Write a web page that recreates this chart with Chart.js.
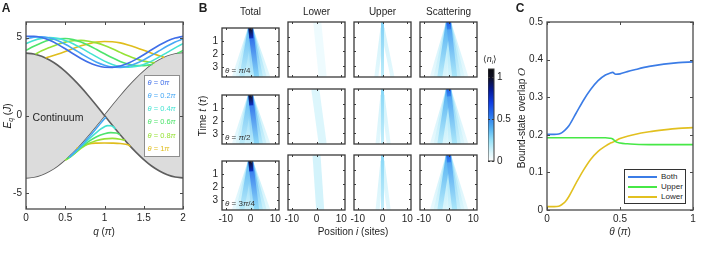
<!DOCTYPE html>
<html>
<head>
<meta charset="utf-8">
<script src="https://cdn.jsdelivr.net/npm/chart.js@4.4.1/dist/chart.umd.min.js"></script>
<style>
  body { margin: 0; width: 714px; height: 259px; background: #fff; position: relative; overflow: hidden;
         font-family: "Liberation Sans", Arial, sans-serif; color: #1f1f1f; }
  canvas { position: absolute; }
  .t { position: absolute; white-space: nowrap; font-size: 10px; line-height: 1; transform: translate(-50%, -50%); }
  .l { transform: translate(0, -50%); }
  .v { transform: translate(-50%, -50%) rotate(-90deg); }
  .big { font-weight: bold; font-size: 12px; }
  .box { position: absolute; background: #fff; }
  .sw { position: absolute; height: 2px; }
  sub { vertical-align: -2px; line-height: 0; }
</style>
</head>
<body>
<script>
// ---------- panel A : spectrum vs q ----------
const qGrid = [0, 0.1, 0.2, 0.3, 0.4, 0.5, 0.6, 0.7, 0.8, 0.9, 1, 1.1, 1.2, 1.3, 1.4, 1.5, 1.6, 1.7, 1.8, 1.9, 2];
const edgeFalling = [4, 3.95, 3.80, 3.56, 3.24, 2.83, 2.35, 1.82, 1.24, 0.63, 0, -0.63, -1.24, -1.82, -2.35, -2.83, -3.24, -3.56, -3.80, -3.95, -4];
const edgeRising = [-4, -3.95, -3.80, -3.56, -3.24, -2.83, -2.35, -1.82, -1.24, -0.63, 0, 0.63, 1.24, 1.82, 2.35, 2.83, 3.24, 3.56, 3.80, 3.95, 4];
const thetaLabels = ['0', '0.2', '0.4', '0.6', '0.8', '1'];
const thetaColors = ['#3f6ee8', '#47a8f5', '#45e3d2', '#4ee46c', '#96e236', '#dfbd1c'];

// upper bound states, [q, E] pairs
const upperBand = [
  [[0, 5.08], [0.1, 5.09], [0.2, 5.0], [0.3, 4.83], [0.4, 4.58], [0.5, 4.28], [0.6, 3.96], [0.7, 3.66], [0.8, 3.40], [0.9, 3.21], [1, 3.10],
   [1.1, 3.09], [1.2, 3.18], [1.3, 3.35], [1.4, 3.60], [1.5, 3.90], [1.6, 4.22], [1.7, 4.52], [1.8, 4.78], [1.9, 4.97], [2, 5.08]],
  [[0, 4.91], [0.1, 5.03], [0.2, 5.05], [0.3, 4.97], [0.4, 4.81], [0.5, 4.57], [0.6, 4.28], [0.7, 3.98], [0.8, 3.68], [0.9, 3.42], [1, 3.23],
   [1.1, 3.11], [1.2, 3.09], [1.3, 3.17], [1.4, 3.33], [1.5, 3.57], [1.6, 3.86], [1.7, 4.16], [1.8, 4.46], [1.9, 4.72], [2, 4.91]],
  [[0, 4.61], [0.1, 4.82], [0.2, 4.95], [0.3, 5.0], [0.4, 4.95], [0.5, 4.82], [0.6, 4.61], [0.7, 4.34], [0.8, 4.05], [0.9, 3.76], [1, 3.49],
   [1.1, 3.28], [1.2, 3.15], [1.3, 3.10], [1.4, 3.15], [1.5, 3.28], [1.6, 3.49], [1.7, 3.76], [1.8, 4.05], [1.9, 4.34], [2, 4.61]],
  [[0, 4.18], [0.1, 4.44], [0.2, 4.67], [0.3, 4.84], [0.4, 4.93], [0.5, 4.94], [0.6, 4.87], [0.7, 4.71], [0.8, 4.49], [0.9, 4.23], [1, 3.96],
   [1.1, 3.70], [1.2, 3.47], [1.3, 3.30], [1.4, 3.21], [1.5, 3.20], [1.6, 3.27], [1.61, 3.28], [1.75, null], [1.93, 3.99], [2, 4.18]],
  [[0.12, 3.94], [0.2, 4.15], [0.3, 4.36], [0.4, 4.56], [0.5, 4.71], [0.6, 4.80], [0.7, 4.82], [0.8, 4.77], [0.9, 4.66], [1, 4.49],
   [1.1, 4.28], [1.2, 4.05], [1.3, 3.83], [1.4, 3.64], [1.5, 3.49], [1.6, 3.40], [1.64, 3.39]],
  [[0.25, 3.70], [0.3, 3.77], [0.4, 3.93], [0.5, 4.11], [0.6, 4.30], [0.7, 4.47], [0.8, 4.61], [0.9, 4.71], [1, 4.75],
   [1.1, 4.73], [1.2, 4.66], [1.3, 4.53], [1.4, 4.37], [1.5, 4.19], [1.6, 4.0], [1.7, 3.83], [1.76, 3.73]]
];
// lower bound states (none for theta = 0)
const lowerBand = [
  [],
  [[0.55, -2.68], [0.6, -2.45], [0.65, -2.2], [0.7, -1.95], [0.75, -1.68], [0.8, -1.4], [0.85, -1.1], [0.9, -0.8], [0.95, -0.5], [1, -0.2], [1.02, -0.12]],
  [[0.55, -2.7], [0.6, -2.47], [0.7, -2.0], [0.8, -1.52], [0.9, -1.08], [0.95, -0.88], [1, -0.72], [1.04, -0.65], [1.08, -0.66], [1.11, -0.72], [1.14, -0.87]],
  [[0.52, -2.8], [0.6, -2.5], [0.7, -2.05], [0.8, -1.66], [0.9, -1.36], [1, -1.17], [1.08, -1.1], [1.15, -1.12], [1.2, -1.24]],
  [[0.5, -2.88], [0.6, -2.52], [0.7, -2.1], [0.8, -1.8], [0.9, -1.6], [1, -1.5], [1.1, -1.47], [1.2, -1.52], [1.26, -1.59]],
  [[0.64, -2.14], [0.7, -1.98], [0.8, -1.82], [0.9, -1.77], [1, -1.76], [1.1, -1.77], [1.2, -1.8], [1.3, -1.88], [1.33, -1.98]]
];
const aTicksX = [0, 0.5, 1, 1.5, 2];
const aTicksY = [-5, 0, 5];

// ---------- panel B : density <n_i>(t) ----------
const bColumns = ['Total', 'Lower', 'Upper', 'Scattering'];
const bThetas = ['π/4', 'π/2', '3π/4'];
const bTicksX = [-10, 0, 10];
const bTicksT = [1, 2, 3];
const tEnd = 3.75;
// light-cone streaks: end position at t = tEnd, and level at t = 0 per row
const rayEnds = [-6.5, -5, -3.5, -2, -0.5, 1, 2.5, 4, 5.5, 7];
const totalRays = [
  [0.14, 0.22, 0.36, 0.28, 0.3, 0.38, 0.62, 0.4, 0.28, 0.16],
  [0.14, 0.22, 0.36, 0.28, 0.3, 0.38, 0.6, 0.4, 0.28, 0.16],
  [0.14, 0.22, 0.38, 0.28, 0.3, 0.38, 0.58, 0.4, 0.28, 0.16]
];
const scatterRays = [
  [0.14, 0.22, 0.4, 0.22, 0.2, 0.26, 0.45, 0.3, 0.22, 0.14],
  [0.14, 0.22, 0.4, 0.22, 0.2, 0.26, 0.45, 0.3, 0.22, 0.14],
  [0.14, 0.22, 0.4, 0.22, 0.2, 0.26, 0.45, 0.3, 0.22, 0.14]
];
const totalCore = [1.0, 1.0, 1.0];
const scatterCore = [0.62, 0.6, 0.6];
const upperStreak = [0.3, 0.28, 0.28];
const upperSpread = [[-2.5, 4], [-2, 2.5], [-2, 2.5]];
const lowerDrift = [[0.3, 2.5], [-0.5, 2.5], [0, 1.5]];
const lowerLevel = [0.05, 0.1, 0.12];
const cbTicks = [0, 0.5, 1];
const cbMax = 1.1;

// ---------- panel C : bound-state overlap ----------
const thetaC = [0, 0.05, 0.08, 0.1, 0.125, 0.15, 0.2, 0.25, 0.3, 0.35, 0.4, 0.43, 0.45, 0.47, 0.5, 0.55, 0.6, 0.7, 0.8, 0.9, 1];
const overlapBoth = [0.201, 0.201, 0.202, 0.205, 0.213, 0.224, 0.258, 0.292, 0.321, 0.344, 0.359, 0.364, 0.366, 0.361, 0.362, 0.368, 0.373, 0.382, 0.388, 0.392, 0.394];
const overlapUpper = [0.192, 0.192, 0.192, 0.192, 0.192, 0.192, 0.192, 0.192, 0.192, 0.192, 0.192, 0.191, 0.189, 0.182, 0.178, 0.176, 0.175, 0.174, 0.174, 0.174, 0.174];
const overlapLower = [0.009, 0.009, 0.010, 0.014, 0.022, 0.036, 0.072, 0.106, 0.135, 0.156, 0.170, 0.177, 0.180, 0.184, 0.190, 0.196, 0.201, 0.208, 0.213, 0.217, 0.219];
const cNames = ['Both', 'Upper', 'Lower'];
const cColors = ['#3b7ce6', '#46e846', '#e2c020'];
const cTicksX = [0, 0.5, 1];
const cTicksY = [0, 0.1, 0.2, 0.3, 0.4, 0.5];

// ---------- helpers ----------
const FONT = '"Liberation Sans", Arial, sans-serif';
Chart.defaults.font.family = FONT;
Chart.defaults.font.size = 10;
Chart.defaults.color = '#262626';

const cmapStops = [[0, [255, 255, 255]], [0.1, [220, 246, 252]], [0.25, [150, 225, 248]], [0.4, [80, 175, 242]],
  [0.55, [40, 115, 238]], [0.7, [15, 60, 225]], [0.85, [5, 25, 150]], [1.0, [15, 15, 35]], [1.1, [10, 10, 15]]];
function cmap(v) {
  v = Math.max(0, Math.min(1.1, v));
  for (let i = 1; i < cmapStops.length; i++) {
    const [v1, c1] = cmapStops[i], [v0, c0] = cmapStops[i - 1];
    if (v <= v1) {
      const f = (v - v0) / (v1 - v0);
      return 'rgb(' + c0.map((c, k) => Math.round(c + (c1[k] - c) * f)).join(',') + ')';
    }
  }
  return 'rgb(10,10,15)';
}

// frame with inward ticks on all sides (matlab look)
const framePlugin = {
  id: 'frame',
  afterDatasetsDraw(chart, args, o) {
    const { ctx, chartArea: a, scales } = chart;
    const L = o.len || 3;
    ctx.save();
    ctx.strokeStyle = o.color || '#4a4a4a';
    ctx.lineWidth = 1;
    ctx.beginPath();
    if (o.xTicks !== false) {
      scales.x.ticks.forEach(t => {
        const p = Math.round(scales.x.getPixelForValue(t.value)) + 0.5;
        ctx.moveTo(p, a.bottom); ctx.lineTo(p, a.bottom - L);
        ctx.moveTo(p, a.top); ctx.lineTo(p, a.top + L);
      });
    }
    scales.y.ticks.forEach(t => {
      const p = Math.round(scales.y.getPixelForValue(t.value)) + 0.5;
      ctx.moveTo(a.left, p); ctx.lineTo(a.left + L, p);
      ctx.moveTo(a.right, p); ctx.lineTo(a.right - L, p);
    });
    ctx.stroke();
    ctx.lineWidth = o.width || 1.3;
    ctx.strokeRect(a.left, a.top, a.right - a.left, a.bottom - a.top);
    ctx.restore();
  }
};
Chart.register(framePlugin);

function canvasAt(x, y, w, h) {
  const c = document.createElement('canvas');
  c.width = w; c.height = h;
  c.style.left = x + 'px'; c.style.top = y + 'px';
  c.style.width = w + 'px'; c.style.height = h + 'px';
  document.body.appendChild(c);
  return c;
}

function axis(min, max, ticks, size, opts) {
  opts = opts || {};
  return {
    type: 'linear', min: min, max: max, reverse: !!opts.reverse, position: opts.pos,
    grid: { display: false, drawTicks: false }, border: { display: false },
    ticks: { display: opts.labels !== false, padding: opts.pad || 4, autoSkip: false, maxRotation: 0,
             font: { size: opts.font || 10 }, callback: v => String(v) },
    afterBuildTicks: s => { s.ticks = ticks.map(v => ({ value: v })); },
    afterFit: s => { if (s.isHorizontal()) s.height = size; else s.width = size; }
  };
}

function label(html, x, y, cls, style) {
  const d = document.createElement('div');
  d.className = 't ' + (cls || '');
  d.innerHTML = html;
  d.style.left = x + 'px'; d.style.top = y + 'px';
  if (style) Object.assign(d.style, style);
  document.body.appendChild(d);
  return d;
}

const baseOpts = () => ({
  animation: false, responsive: false, events: [],
  plugins: { legend: { display: false }, tooltip: { enabled: false }, frame: {} }
});

// ---------- panel A ----------
function curve(points, color) {
  return { data: points.map(p => ({ x: p[0], y: p[1] })), borderColor: color, borderWidth: 1.6, pointRadius: 0,
           fill: false, cubicInterpolationMode: 'monotone', spanGaps: false, order: 1 };
}
const aSets = [];
upperBand.forEach((b, i) => aSets.push(curve(b, thetaColors[i])));
lowerBand.forEach((b, i) => { if (b.length) aSets.push(curve(b, thetaColors[i])); });
aSets.push({ data: qGrid.map((q, i) => ({ x: q, y: edgeFalling[i] })), borderColor: '#5e5e5e', borderWidth: 1.6,
             pointRadius: 0, cubicInterpolationMode: 'monotone', order: 5,
             fill: { target: '+1', above: '#dcdcdc', below: '#dcdcdc' } });
aSets.push({ data: qGrid.map((q, i) => ({ x: q, y: edgeRising[i] })), borderColor: '#5e5e5e', borderWidth: 1.6,
             pointRadius: 0, cubicInterpolationMode: 'monotone', order: 5, fill: false });

const aOpts = baseOpts();
aOpts.layout = { padding: { left: 0, top: 22, right: 7, bottom: 0 } };
aOpts.scales = { x: axis(0, 2, aTicksX, 31, { pad: 3 }), y: axis(-6, 6, aTicksY, 26) };
new Chart(canvasAt(0, 0, 190, 240), { type: 'line', data: { datasets: aSets }, options: aOpts });

// ---------- panel B ----------
function ray(x0, t0, x1, t1, lvTop, lvBot, w) {
  return {
    level: lvTop, data: [{ x: x0, y: t0 }, { x: x1, y: t1 }], borderWidth: w, pointRadius: 0, clip: 0,
    borderCapStyle: 'butt', fill: false,
    borderColor: c => {
      const ch = c.chart;
      if (!ch.chartArea) return cmap(lvTop);
      const ys = ch.scales.y;
      const g = ch.ctx.createLinearGradient(0, ys.getPixelForValue(t0), 0, ys.getPixelForValue(t1));
      g.addColorStop(0, cmap(lvTop));
      g.addColorStop(1, cmap(lvBot));
      return g;
    }
  };
}
function panelRays(r, c) {
  const sets = [];
  if (c === 0 || c === 3) {
    const lv = (c === 0 ? totalRays : scatterRays)[r];
    rayEnds.forEach((xe, k) => sets.push(ray(0, 0, xe, tEnd, lv[k], lv[k] * 0.45, 5)));
    if (c === 0) sets.push(ray(0, 0, 0.3, 0.8, totalCore[r], 0.75, 4));
    else sets.push(ray(0, 0, 0.2, 0.5, scatterCore[r], 0.5, 4));
  } else if (c === 2) {
    upperSpread[r].forEach(xe => sets.push(ray(0, 0.4, xe, tEnd, 0.12, 0.08, 4)));
    sets.push(ray(0, 0, 0, tEnd, upperStreak[r], upperStreak[r] * 0.55, 3));
  } else {
    sets.push(ray(lowerDrift[r][0], 0, lowerDrift[r][1], tEnd, lowerLevel[r], lowerLevel[r], 8));
  }
  sets.sort((a, b) => b.level - a.level);
  return sets;
}
const bLeft = [222, 288, 354, 420], bTop = [22, 89, 155], bW = 57, bH = 55;
for (let r = 0; r < 3; r++) {
  for (let c = 0; c < 4; c++) {
    const o = baseOpts();
    o.layout = { padding: { left: 0, top: 4, right: 10, bottom: 0 } };
    o.scales = {
      x: axis(-11.5, 11.5, bTicksX, 16, { labels: r === 2, pad: 3 }),
      y: axis(0, tEnd, bTicksT, 16, { labels: c === 0, reverse: true, pad: 4 })
    };
    o.plugins.frame = { len: 2, color: '#3a3a3a' };
    new Chart(canvasAt(bLeft[c] - 16, bTop[r] - 4, bW + 26, bH + 20),
              { type: 'line', data: { datasets: panelRays(r, c) }, options: o });
  }
}
// colour bar
const cbOpts = baseOpts();
cbOpts.layout = { padding: { left: 0, top: 7, right: 0, bottom: 0 } };
cbOpts.scales = {
  x: { display: true, grid: { display: false, drawTicks: false }, border: { display: false }, ticks: { display: false },
       afterFit: s => { s.height = 5; } },
  y: axis(0, cbMax, cbTicks, 24, { pos: 'right', pad: 3 })
};
cbOpts.plugins.frame = { len: 2, xTicks: false, color: '#3a3a3a', width: 1 };
new Chart(canvasAt(488, 60, 30, 110), {
  type: 'bar',
  data: { labels: ['n'], datasets: [{ data: [cbMax], barPercentage: 1, categoryPercentage: 1,
    backgroundColor: c => {
      const ch = c.chart;
      if (!ch.chartArea) return '#fff';
      const ys = ch.scales.y;
      const g = ch.ctx.createLinearGradient(0, ys.getPixelForValue(0), 0, ys.getPixelForValue(cbMax));
      cmapStops.forEach(s => g.addColorStop(s[0] / cbMax, cmap(s[0])));
      return g;
    } }] },
  options: cbOpts
});

// ---------- panel C ----------
const cSets = [overlapBoth, overlapUpper, overlapLower].map((arr, i) => ({
  data: thetaC.map((t, k) => ({ x: t, y: arr[k] })), borderColor: cColors[i], borderWidth: 1.6,
  pointRadius: 0, fill: false, cubicInterpolationMode: 'monotone'
}));
const cOpts = baseOpts();
cOpts.layout = { padding: { left: 0, top: 22, right: 14, bottom: 0 } };
cOpts.scales = { x: axis(0, 1, cTicksX, 30, { pad: 3 }), y: axis(0, 0.5, cTicksY, 20, { pad: 4 }) };
new Chart(canvasAt(527, 0, 180, 240), { type: 'line', data: { datasets: cSets }, options: cOpts });

// ---------- text ----------
label('A', 6, 8, 'big');
label('B', 203, 8, 'big');
label('C', 520, 8, 'big');

label('<i>q</i> (<i>π</i>)', 104, 232);
label('<i>E<sub style="font-size:7px">q</sub></i> (<i>J</i>)', 8, 116, 'v');
label('Continuum', 58, 117, '', { fontSize: '10.5px' });

// theta legend in A
const lgA = document.createElement('div');
lgA.className = 'box';
Object.assign(lgA.style, { left: '144px', top: '75px', width: '34px', height: '80px', border: '1px solid #8e8e8e' });
document.body.appendChild(lgA);
thetaLabels.forEach((s, i) => {
  label('<i>θ</i> = ' + s + '<i>π</i>', 147.5, 82.5 + i * 13.3, 'l', { color: thetaColors[i], fontSize: '7.5px' });
});

bColumns.forEach((s, c) => label(s, bLeft[c] + bW / 2, 12));
bThetas.forEach((s, r) => {
  label('<i>θ</i> = ' + s.replace('π', '<i>π</i>'), 225, bTop[r] + 49, 'l', { fontSize: '8px', color: '#333' });
});
label('Time <i>t</i> (<i>τ</i>)', 203, 116, 'v');
label('Position <i>i</i> (sites)', 353, 232);
label('⟨<i>n<sub style="font-size:6px">i</sub></i>⟩', 490, 59, '', { fontSize: '9px' });

label('Bound-state overlap <i style="font-family:\'DejaVu Serif\'">O</i>', 522, 118, 'v');
label('<i>θ</i> (<i>π</i>)', 620, 232);

// legend in C
const lgC = document.createElement('div');
lgC.className = 'box';
Object.assign(lgC.style, { left: '624px', top: '169px', width: '60px', height: '33px', border: '1px solid #333' });
document.body.appendChild(lgC);
cNames.forEach((s, i) => {
  const y = 176.5 + i * 10.3;
  const sw = document.createElement('div');
  sw.className = 'sw';
  Object.assign(sw.style, { left: '628px', top: (y - 1) + 'px', width: '29px', background: cColors[i] });
  document.body.appendChild(sw);
  label(s, 661, y, 'l', { fontSize: '8px' });
});
</script>
</body>
</html>
